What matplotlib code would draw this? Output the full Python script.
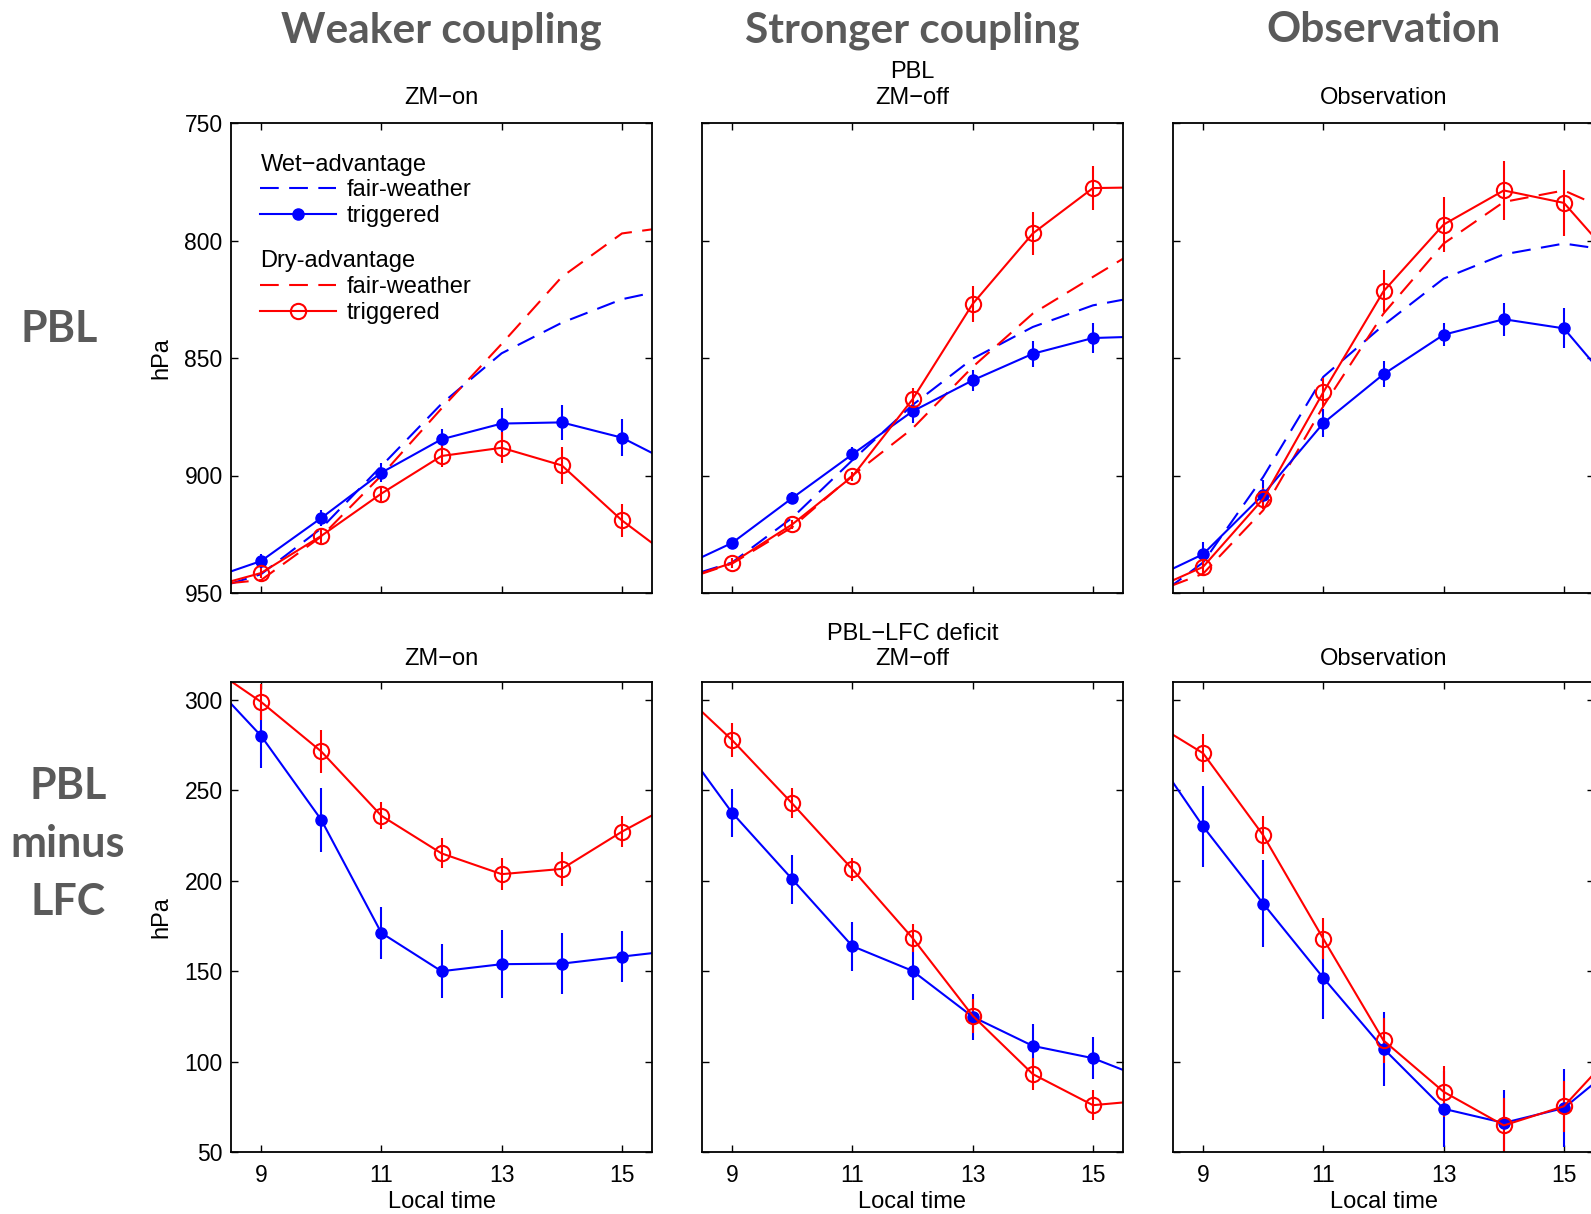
import numpy as np
import matplotlib.pyplot as plt

plt.rcParams['font.family'] = ['Liberation Sans', 'DejaVu Sans']

# local hour; 8 and 16 only carry the lines out to the frame edge
hours = [8, 9, 10, 11, 12, 13, 14, 15, 16]

# ---- PBL (hPa), top row ----
on_wet_fair = [950, 942, 922.5, 896, 869.5, 848, 835, 825, 819.5]
on_wet_trig = [945.2, 936.4, 918.1, 898.8, 884.6, 877.9, 877.4, 883.9, 896.9]
on_wet_err = [0, 3, 3.5, 4, 4.5, 6.5, 7.5, 8, 0]
on_dry_fair = [947, 944.5, 926, 900, 871.5, 844, 815.5, 797, 793.5]
on_dry_trig = [948.5, 941.5, 925.7, 907.7, 891.7, 888.2, 895.7, 919.1, 938.3]
on_dry_err = [0, 2, 3, 3, 4.5, 6.5, 8, 7, 0]

off_wet_fair = [945, 937, 918, 893.5, 870, 850.3, 836.8, 827.6, 822.8]
off_wet_trig = [940.7, 928.7, 909.6, 891, 872.7, 859.5, 848.2, 841.5, 840.7]
off_wet_err = [0, 2, 2.5, 3, 5, 4.5, 5.5, 6.5, 0]
off_dry_fair = [946, 937.5, 922, 900, 880, 853.8, 831.1, 815.5, 800]
off_dry_trig = [945.8, 937.2, 920.8, 900.4, 867.6, 827, 797, 777.7, 777.3]
off_dry_err = [0, 2, 2, 2, 5, 7.5, 9, 9.5, 0]

obs_wet_fair = [956, 937, 900.6, 858, 836, 816.2, 805.9, 801.3, 805]
obs_wet_trig = [945.7, 933.5, 908.1, 877.7, 856.9, 840.1, 833.5, 837.4, 867.6]
obs_wet_err = [0, 5, 6, 6, 5.5, 5, 7, 8.5, 0]
obs_dry_fair = [951.5, 941.8, 914.8, 870.5, 831.1, 801.3, 783.6, 778.7, 790]
obs_dry_trig = [950.3, 938.9, 909.9, 864.5, 821.6, 793.2, 778.7, 784, 813]
obs_dry_err = [0, 4, 4.5, 6, 9, 11.5, 12.5, 14, 0]

# ---- PBL-LFC deficit (hPa), bottom row ----
on_wet_def = [315.8, 280.2, 233.8, 171.2, 150.0, 153.9, 154.2, 158.1, 161.9]
on_wet_def_err = [0, 18, 17.7, 14.4, 14.9, 18.8, 17, 14.2, 0]
on_dry_def = [321.8, 299, 271.6, 236, 215.2, 203.7, 206.6, 227.2, 245.2]
on_dry_def_err = [0, 10, 12, 7.5, 8.3, 8.8, 9.5, 8.6, 0]

off_wet_def = [283.3, 237.7, 200.9, 163.9, 150.2, 124.8, 108.7, 101.9, 88.9]
off_wet_def_err = [0, 13.3, 13.5, 13.5, 16, 12.7, 12, 11.5, 0]
off_dry_def = [309.1, 277.9, 242.8, 206.4, 168.4, 125.4, 93.1, 75.9, 78.9]
off_dry_def_err = [0, 9.3, 8.3, 6.4, 7.6, 9.5, 9, 8.2, 0]

obs_wet_def = [278.7, 230.1, 187.4, 146.3, 107.2, 73.9, 66.1, 74.3, 101.6]
obs_wet_def_err = [0, 22.4, 23.9, 23, 20.5, 21, 18, 21.5, 0]
obs_dry_def = [291, 270.6, 225.2, 167.9, 111.7, 83.3, 64.7, 75.3, 111.3]
obs_dry_def_err = [0, 10.4, 10.5, 11.3, 12.5, 14.2, 15, 14, 0]

col_headers = ['Weaker coupling', 'Stronger coupling', 'Observation']
top_titles = ['ZM\u2212on', 'PBL\nZM\u2212off', 'Observation']
bot_titles = ['ZM\u2212on', 'PBL\u2212LFC deficit\nZM\u2212off', 'Observation']
xticks = [9, 11, 13, 15]
pbl_ticks = [750, 800, 850, 900, 950]
def_ticks = [50, 100, 150, 200, 250, 300]

BLUE = (0, 0, 1)
RED = (1, 0, 0)
LW = 1.5
DASH = (0, (9, 5))
FS = 17
HEAD = '#5a5a5a'


def style_axes(ax):
    ax.set_xlim(8.5, 15.5)
    ax.set_xticks(xticks)
    ax.tick_params(direction='in', top=True, right=True, length=5, width=1,
                   labelsize=16.5, pad=6)
    ax.tick_params(axis='x', pad=8.5)
    for s in ax.spines.values():
        s.set_linewidth(1.3)


def trig_lines(ax, wet, wet_err, dry, dry_err):
    hb = ax.errorbar(hours, wet, yerr=wet_err, color=BLUE, lw=LW, marker='o',
                     ms=8, mfc=BLUE, mec=BLUE, elinewidth=LW, capsize=0)
    hr = ax.errorbar(hours, dry, yerr=dry_err, color=RED, lw=LW, marker='o',
                     ms=11, mfc='none', mec=RED, mew=1.5, elinewidth=LW, capsize=0)
    return hb[0], hr[0]


fig = plt.figure(figsize=(15.91, 12.14), dpi=100)
W, H = 1591.0, 1214.0
lefts = [231, 702, 1173]
aw, ah = 421 / W, 470 / H

pbl_sets = [
    (on_wet_fair, on_wet_trig, on_wet_err, on_dry_fair, on_dry_trig, on_dry_err),
    (off_wet_fair, off_wet_trig, off_wet_err, off_dry_fair, off_dry_trig, off_dry_err),
    (obs_wet_fair, obs_wet_trig, obs_wet_err, obs_dry_fair, obs_dry_trig, obs_dry_err),
]
def_sets = [
    (on_wet_def, on_wet_def_err, on_dry_def, on_dry_def_err),
    (off_wet_def, off_wet_def_err, off_dry_def, off_dry_def_err),
    (obs_wet_def, obs_wet_def_err, obs_dry_def, obs_dry_def_err),
]

for i in range(3):
    # top row: PBL pressure
    ax = fig.add_axes([lefts[i] / W, (H - 593) / H, aw, ah])
    wf, wt, we, df, dt, de = pbl_sets[i]
    lwf, = ax.plot(hours, wf, color=BLUE, lw=LW, ls=DASH)
    ldf, = ax.plot(hours, df, color=RED, lw=LW, ls=DASH)
    lwt, ldt = trig_lines(ax, wt, we, dt, de)
    style_axes(ax)
    ax.set_ylim(950, 750)
    ax.set_yticks(pbl_ticks)
    ax.tick_params(labelbottom=False)
    ax.set_title(top_titles[i], fontsize=FS, pad=14)
    if i == 0:
        ax.set_ylabel('hPa', fontsize=FS, labelpad=9)
        kw = dict(loc='upper left', frameon=False, alignment='left', handlelength=3.2,
                  handletextpad=0.43, borderpad=0, borderaxespad=0, labelspacing=0.16,
                  fontsize=FS, title_fontsize=FS)
        leg1 = ax.legend([lwf, lwt], ['fair-weather', 'triggered'],
                         title='Wet\u2212advantage', bbox_to_anchor=(0.07, 0.935), **kw)
        ax.add_artist(leg1)
        ax.legend([ldf, ldt], ['fair-weather', 'triggered'],
                  title='Dry-advantage', bbox_to_anchor=(0.07, 0.729), **kw)
    else:
        ax.tick_params(labelleft=False)

    # bottom row: PBL-LFC deficit
    ax2 = fig.add_axes([lefts[i] / W, (H - 1152) / H, aw, ah])
    w, we2, d, de2 = def_sets[i]
    trig_lines(ax2, w, we2, d, de2)
    style_axes(ax2)
    ax2.set_ylim(50, 310)
    ax2.set_yticks(def_ticks)
    ax2.set_title(bot_titles[i], fontsize=FS, pad=12)
    ax2.set_xlabel('Local time', fontsize=FS, labelpad=3)
    if i == 0:
        ax2.set_ylabel('hPa', fontsize=FS, labelpad=9)
    else:
        ax2.tick_params(labelleft=False)

    fig.text((lefts[i] + 210) / W, 1 - 42 / H, col_headers[i], ha='center',
             va='baseline', fontsize=30.5, fontweight='bold', color=HEAD, family='Lato')

fig.text(59 / W, 1 - 342 / H, 'PBL', ha='center', va='baseline', fontsize=31,
         fontweight='bold', color=HEAD, family='Lato')
fig.text(68 / W, 1 - 915 / H, 'PBL\nminus\nLFC', ha='center', va='baseline',
         fontsize=31, fontweight='bold', color=HEAD, family='Lato',
         multialignment='center', linespacing=1.55)

fig.savefig('out.png', dpi=100)
